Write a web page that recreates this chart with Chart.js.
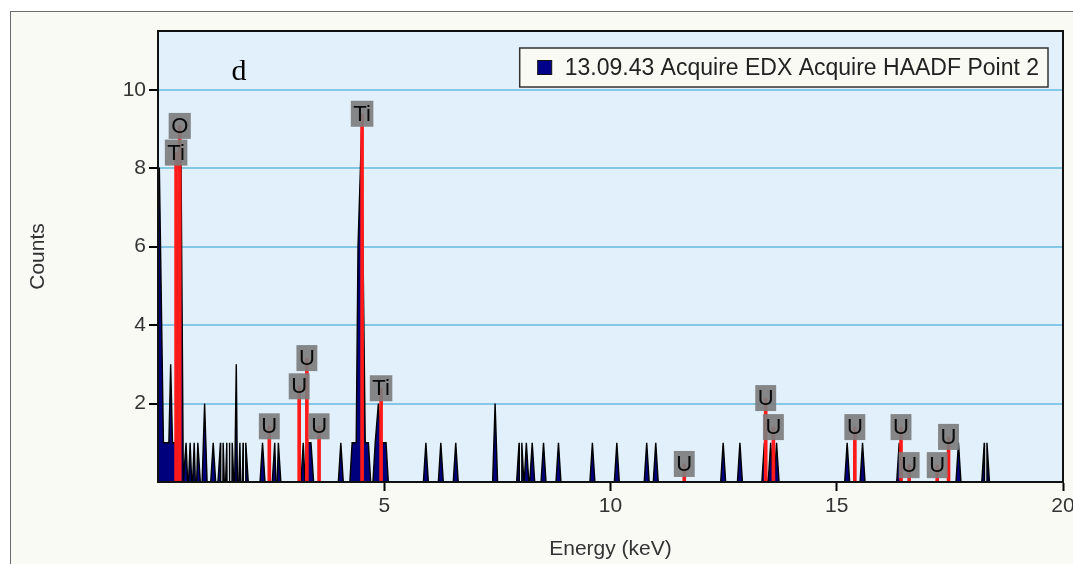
<!DOCTYPE html>
<html>
<head>
<meta charset="utf-8">
<script src="https://cdn.jsdelivr.net/npm/chart.js@4.4.1/dist/chart.umd.min.js"></script>
<style>
  html, body { margin: 0; padding: 0; background: #fff; overflow: hidden; width: 1073px; height: 564px; }
  .panel { position: absolute; left: 10px; top: 11px; width: 1100px; height: 600px; border: 1px solid #6b6b6b; background: #fafaf5; }
  .wrap { position: absolute; left: 0; top: 0; width: 1090px; height: 564px; }
</style>
</head>
<body>
<div class="panel"></div>
<div class="wrap"><canvas id="edxChart"></canvas></div>
<script>
// =========================
// DATA
// =========================
const xTicks = [5, 10, 15, 20];
const yTicks = [2, 4, 6, 8, 10];

// single-channel spikes: energy (keV) and counts
const spikeEnergy = [0.62, 0.71, 0.80, 0.88, 1.03, 1.22, 1.38, 1.44, 1.52, 1.58, 1.64, 1.73, 1.81, 1.88, 1.94,
  2.31, 2.58, 2.66, 4.04,
  5.92, 6.25, 6.58, 7.45, 7.98, 8.04, 8.14, 8.27, 8.52, 8.85, 9.60, 10.14, 10.80, 11.00,
  12.49, 12.86, 13.40, 13.54, 13.67, 15.23, 15.57, 16.38, 17.69, 18.26, 18.32];
const spikeCounts = [1, 1, 1, 1, 2, 1, 1, 1, 1, 1, 1, 3, 1, 1, 1,
  1, 1, 1, 1,
  1, 1, 1, 2, 1, 1, 1, 1, 1, 1, 1, 1, 1, 1,
  1, 1, 1, 1, 1, 1, 1, 1, 1, 1, 1];

// multi-channel peaks, outline as [keV, counts]
const peakLowE = [[0, 8], [0.03, 8], [0.12, 1], [0.24, 1], [0.28, 3], [0.32, 1], [0.39, 1], [0.47, 9], [0.51, 8], [0.56, 0]];
const peakUM   = [[3.16, 0], [3.21, 1], [3.25, 0], [3.28, 1], [3.33, 1], [3.38, 1], [3.44, 0]];
const peakTiKa = [[4.24, 0], [4.29, 1], [4.38, 1], [4.42, 6], [4.50, 9], [4.58, 1], [4.65, 1], [4.70, 0]];
const peakTiKb = [[4.75, 0], [4.80, 1], [4.87, 2], [4.93, 1], [5.04, 1], [5.09, 0]];

// element markers
const markerLabels = ["Ti", "O", "U", "U", "U", "U", "Ti", "Ti", "U", "U", "U", "U", "U", "U", "U", "U"];
const markerEnergy = [0.40, 0.48, 2.46, 3.12, 3.29, 3.56, 4.51, 4.93, 11.63, 13.43, 13.60, 15.40, 16.42, 16.60, 17.22, 17.47];
const markerLevel  = [8.4, 9.08, 1.42, 2.44, 3.16, 1.42, 9.39, 2.39, 0.46, 2.14, 1.40, 1.40, 1.40, 0.43, 0.43, 1.15];

const seriesLabel = "13.09.43 Acquire EDX Acquire HAADF Point 2";

// =========================
// BUILD SPECTRUM POINTS
// =========================
const SPIKE_HALF = 0.055;
const spectrum = [];
spikeEnergy.forEach((e, i) => {
  spectrum.push({ x: e - SPIKE_HALF, y: 0 }, { x: e, y: spikeCounts[i] }, { x: e + SPIKE_HALF, y: 0 });
});
[peakLowE, peakUM, peakTiKa, peakTiKb].forEach(p => p.forEach(([x, y]) => spectrum.push({ x, y })));
spectrum.push({ x: 20, y: 0 });
spectrum.sort((a, b) => a.x - b.x);

const SANS = "'Liberation Sans', Arial, sans-serif";
const axisFont = { family: SANS, size: 21 };

// =========================
// PLUGINS
// =========================
const plotFrame = {
  id: "plotFrame",
  beforeDraw(chart) {
    const { ctx, chartArea: a } = chart;
    ctx.save();
    ctx.fillStyle = "#e1f0fb";
    ctx.fillRect(a.left, a.top, a.width, a.height);
    ctx.restore();
  },
  afterDraw(chart) {
    const { ctx, chartArea: a } = chart;
    ctx.save();
    ctx.strokeStyle = "#111";
    ctx.lineWidth = 2;
    ctx.strokeRect(a.left, a.top, a.width, a.height);

    // legend box
    ctx.font = "23px " + SANS;
    const tw = ctx.measureText(seriesLabel).width;
    const h = 39, right = a.right - 15, top = a.top + 17;
    const w = 18 + 14 + 13 + tw + 9;
    const left = right - w;
    ctx.fillStyle = "#fafaf5";
    ctx.fillRect(left, top, w, h);
    ctx.strokeStyle = "#333";
    ctx.lineWidth = 1.5;
    ctx.strokeRect(left, top, w, h);
    ctx.fillStyle = "#00008a";
    ctx.fillRect(left + 18, top + 12.5, 14, 14);
    ctx.strokeStyle = "#111";
    ctx.lineWidth = 1;
    ctx.strokeRect(left + 18, top + 12.5, 14, 14);
    ctx.fillStyle = "#222";
    ctx.textBaseline = "middle";
    ctx.fillText(seriesLabel, left + 45, top + h / 2 + 1);

    // panel letter
    ctx.font = "30px 'Liberation Serif', 'Times New Roman', serif";
    ctx.textAlign = "center";
    ctx.textBaseline = "alphabetic";
    ctx.fillStyle = "#000";
    ctx.fillText("d", a.left + 81, 80);
    ctx.restore();
  }
};

const markerTags = {
  id: "markerTags",
  afterDatasetsDraw(chart) {
    const { ctx, scales: { x, y } } = chart;
    ctx.save();
    ctx.font = "22px " + SANS;
    ctx.textAlign = "center";
    ctx.textBaseline = "middle";
    markerEnergy.forEach((e, i) => {
      const px = x.getPixelForValue(e);
      const py = y.getPixelForValue(markerLevel[i]);
      const tw = ctx.measureText(markerLabels[i]).width;
      const bw = tw + 5, bh = 26;
      ctx.fillStyle = "rgba(125,125,125,0.92)";
      ctx.fillRect(px - bw / 2, py - bh / 2, bw, bh);
      ctx.fillStyle = "#0a0a0a";
      ctx.fillText(markerLabels[i], px, py + 1);
    });
    ctx.restore();
  }
};

// =========================
// CHART
// =========================
new Chart(document.getElementById("edxChart"), {
  type: "line",
  data: {
    datasets: [
      {
        type: "bar",
        label: "markers",
        data: markerEnergy.map((e, i) => ({ x: e, y: markerLevel[i] })),
        backgroundColor: "#ff1a1a",
        barThickness: 3,
        order: 0
      },
      {
        label: seriesLabel,
        data: spectrum,
        borderColor: "#000",
        borderWidth: 1.4,
        backgroundColor: "#00007c",
        fill: "origin",
        pointRadius: 0,
        tension: 0,
        order: 1
      }
    ]
  },
  options: {
    responsive: true,
    maintainAspectRatio: false,
    animation: false,
    layout: { padding: { top: 31, right: 27, bottom: 0, left: 0 } },
    plugins: { legend: { display: false }, tooltip: { enabled: false } },
    scales: {
      x: {
        type: "linear",
        min: 0,
        max: 20,
        offset: false,
        afterBuildTicks: s => { s.ticks = xTicks.map(v => ({ value: v })); },
        afterFit: s => { s.height = 82; },
        ticks: { font: axisFont, color: "#333", maxRotation: 0, padding: 3 },
        grid: { offset: false, drawOnChartArea: false, tickColor: "#000", tickLength: 9, tickWidth: 2 },
        border: { color: "#000", width: 2 },
        title: { display: true, text: "Energy (keV)", font: axisFont, color: "#333", padding: { top: 0, bottom: 2 } }
      },
      y: {
        min: 0,
        max: 11.5,
        afterBuildTicks: s => { s.ticks = yTicks.map(v => ({ value: v })); },
        afterFit: s => { s.width = 158; },
        ticks: { font: axisFont, color: "#333", padding: 3 },
        grid: { color: "#84c8e8", lineWidth: 2, tickColor: "#000", tickLength: 9, tickWidth: 2 },
        border: { color: "#000", width: 2 },
        title: { display: true, text: "Counts", font: axisFont, color: "#333", padding: { top: 26, bottom: 0 } }
      }
    }
  },
  plugins: [plotFrame, markerTags]
});
</script>
</body>
</html>
